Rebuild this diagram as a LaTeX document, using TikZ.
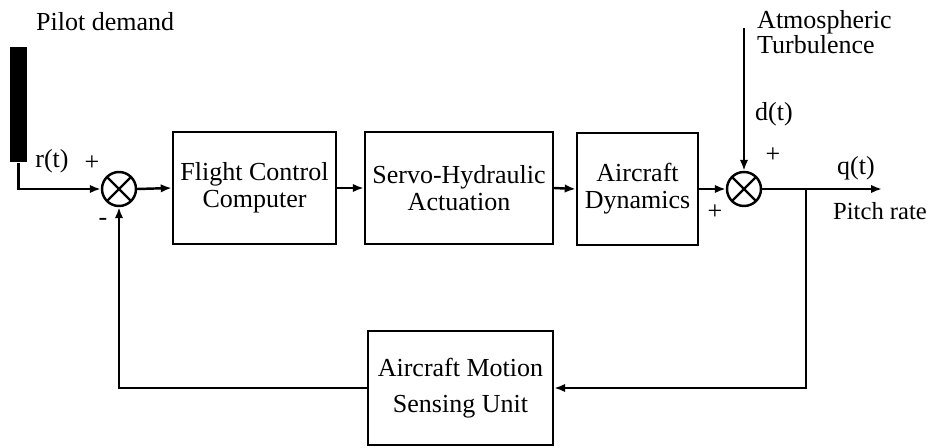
\documentclass[tikz,border=0pt]{standalone}
\usepackage{fontspec}
\setmainfont{Liberation Serif}
\usetikzlibrary{arrows.meta, positioning, calc}

\begin{document}
\begin{tikzpicture}[x=0.02cm, y=-0.02cm, line width=1.4pt,
    every node/.style={font=\fontsize{14.8}{15.5}\selectfont},
    blk/.style={draw, line width=1.4pt, minimum height=2.24cm, align=center, inner sep=2pt},
    sumjn/.style={draw, circle, line width=1.4pt, minimum size=0.68cm, inner sep=0pt,
        path picture={\draw[line width=1.4pt]
            (path picture bounding box.north west) -- (path picture bounding box.south east)
            (path picture bounding box.north east) -- (path picture bounding box.south west);}},
    lbl/.style={anchor=west, inner sep=0pt},
    sig/.style={-{Latex[length=2.2mm, width=1.7mm]}}]
    \useasboundingbox (0,0) rectangle (931,447);

    % Pilot input
    \node[lbl] (pdem) at (35,22) {Pilot demand};
    \node[fill=black, minimum width=0.34cm, minimum height=2.3cm, inner sep=0pt] (pilot) at (18.5,104.5) {};
    \node (rt) at (52,161) {r(t)};

    % Summing junctions
    \node[sumjn] (s1) at (119,189) {};
    \node[sumjn] (s2) at (744,189) {};

    % Forward path blocks
    \node[blk, minimum width=3.26cm] (fcc) at (254.5,188) {Flight Control\\Computer};
    \node[blk, minimum width=3.76cm] (servo) at (459,188) {Servo-Hydraulic\\Actuation};
    \node[blk, minimum width=2.42cm] (acd) at (637.5,189) {Aircraft\\Dynamics};

    % Feedback block
    \node[blk, minimum width=3.70cm, minimum height=2.28cm] (sense) at (460.5,388)
        {Aircraft Motion\\[5pt]Sensing Unit};

    % Disturbance and output points
    \coordinate (dtop) at (744,28);
    \coordinate (out) at (882,189);
    \coordinate (br) at (806,189);

    % Signal lines
    \draw[sig] (pilot.south) |- (s1.west);
    \draw[sig] (s1.east) -- (fcc.west);
    \draw[sig] (fcc.east) -- (servo.west);
    \draw[sig] (servo.east) -- (acd.west);
    \draw[sig] (acd.east) -- (s2.west);
    \draw[sig] (dtop) -- (s2.north);
    \draw[sig] (s2.east) -- (out);
    \draw[sig] (br) |- (sense.east);
    \draw[sig] (sense.west) -| (s1.south);

    % Signs and labels
    \node (p1) at (92,163) {+};
    \node (m1) at (103,222) {-};
    \node (p2) at (773,155) {+};
    \node (p3) at (715,212) {+};
    \node[lbl, align=left, font=\fontsize{14.8}{11.8}\selectfont] (atm) at (756,32)
        {Atmospheric\\Turbulence};
    \node (dt) at (774,114) {d(t)};
    \node (qt) at (856,168) {q(t)};
    \node[lbl, font=\fontsize{14}{15}\selectfont] (prate) at (832,211) {Pitch rate};
\end{tikzpicture}
\end{document}
